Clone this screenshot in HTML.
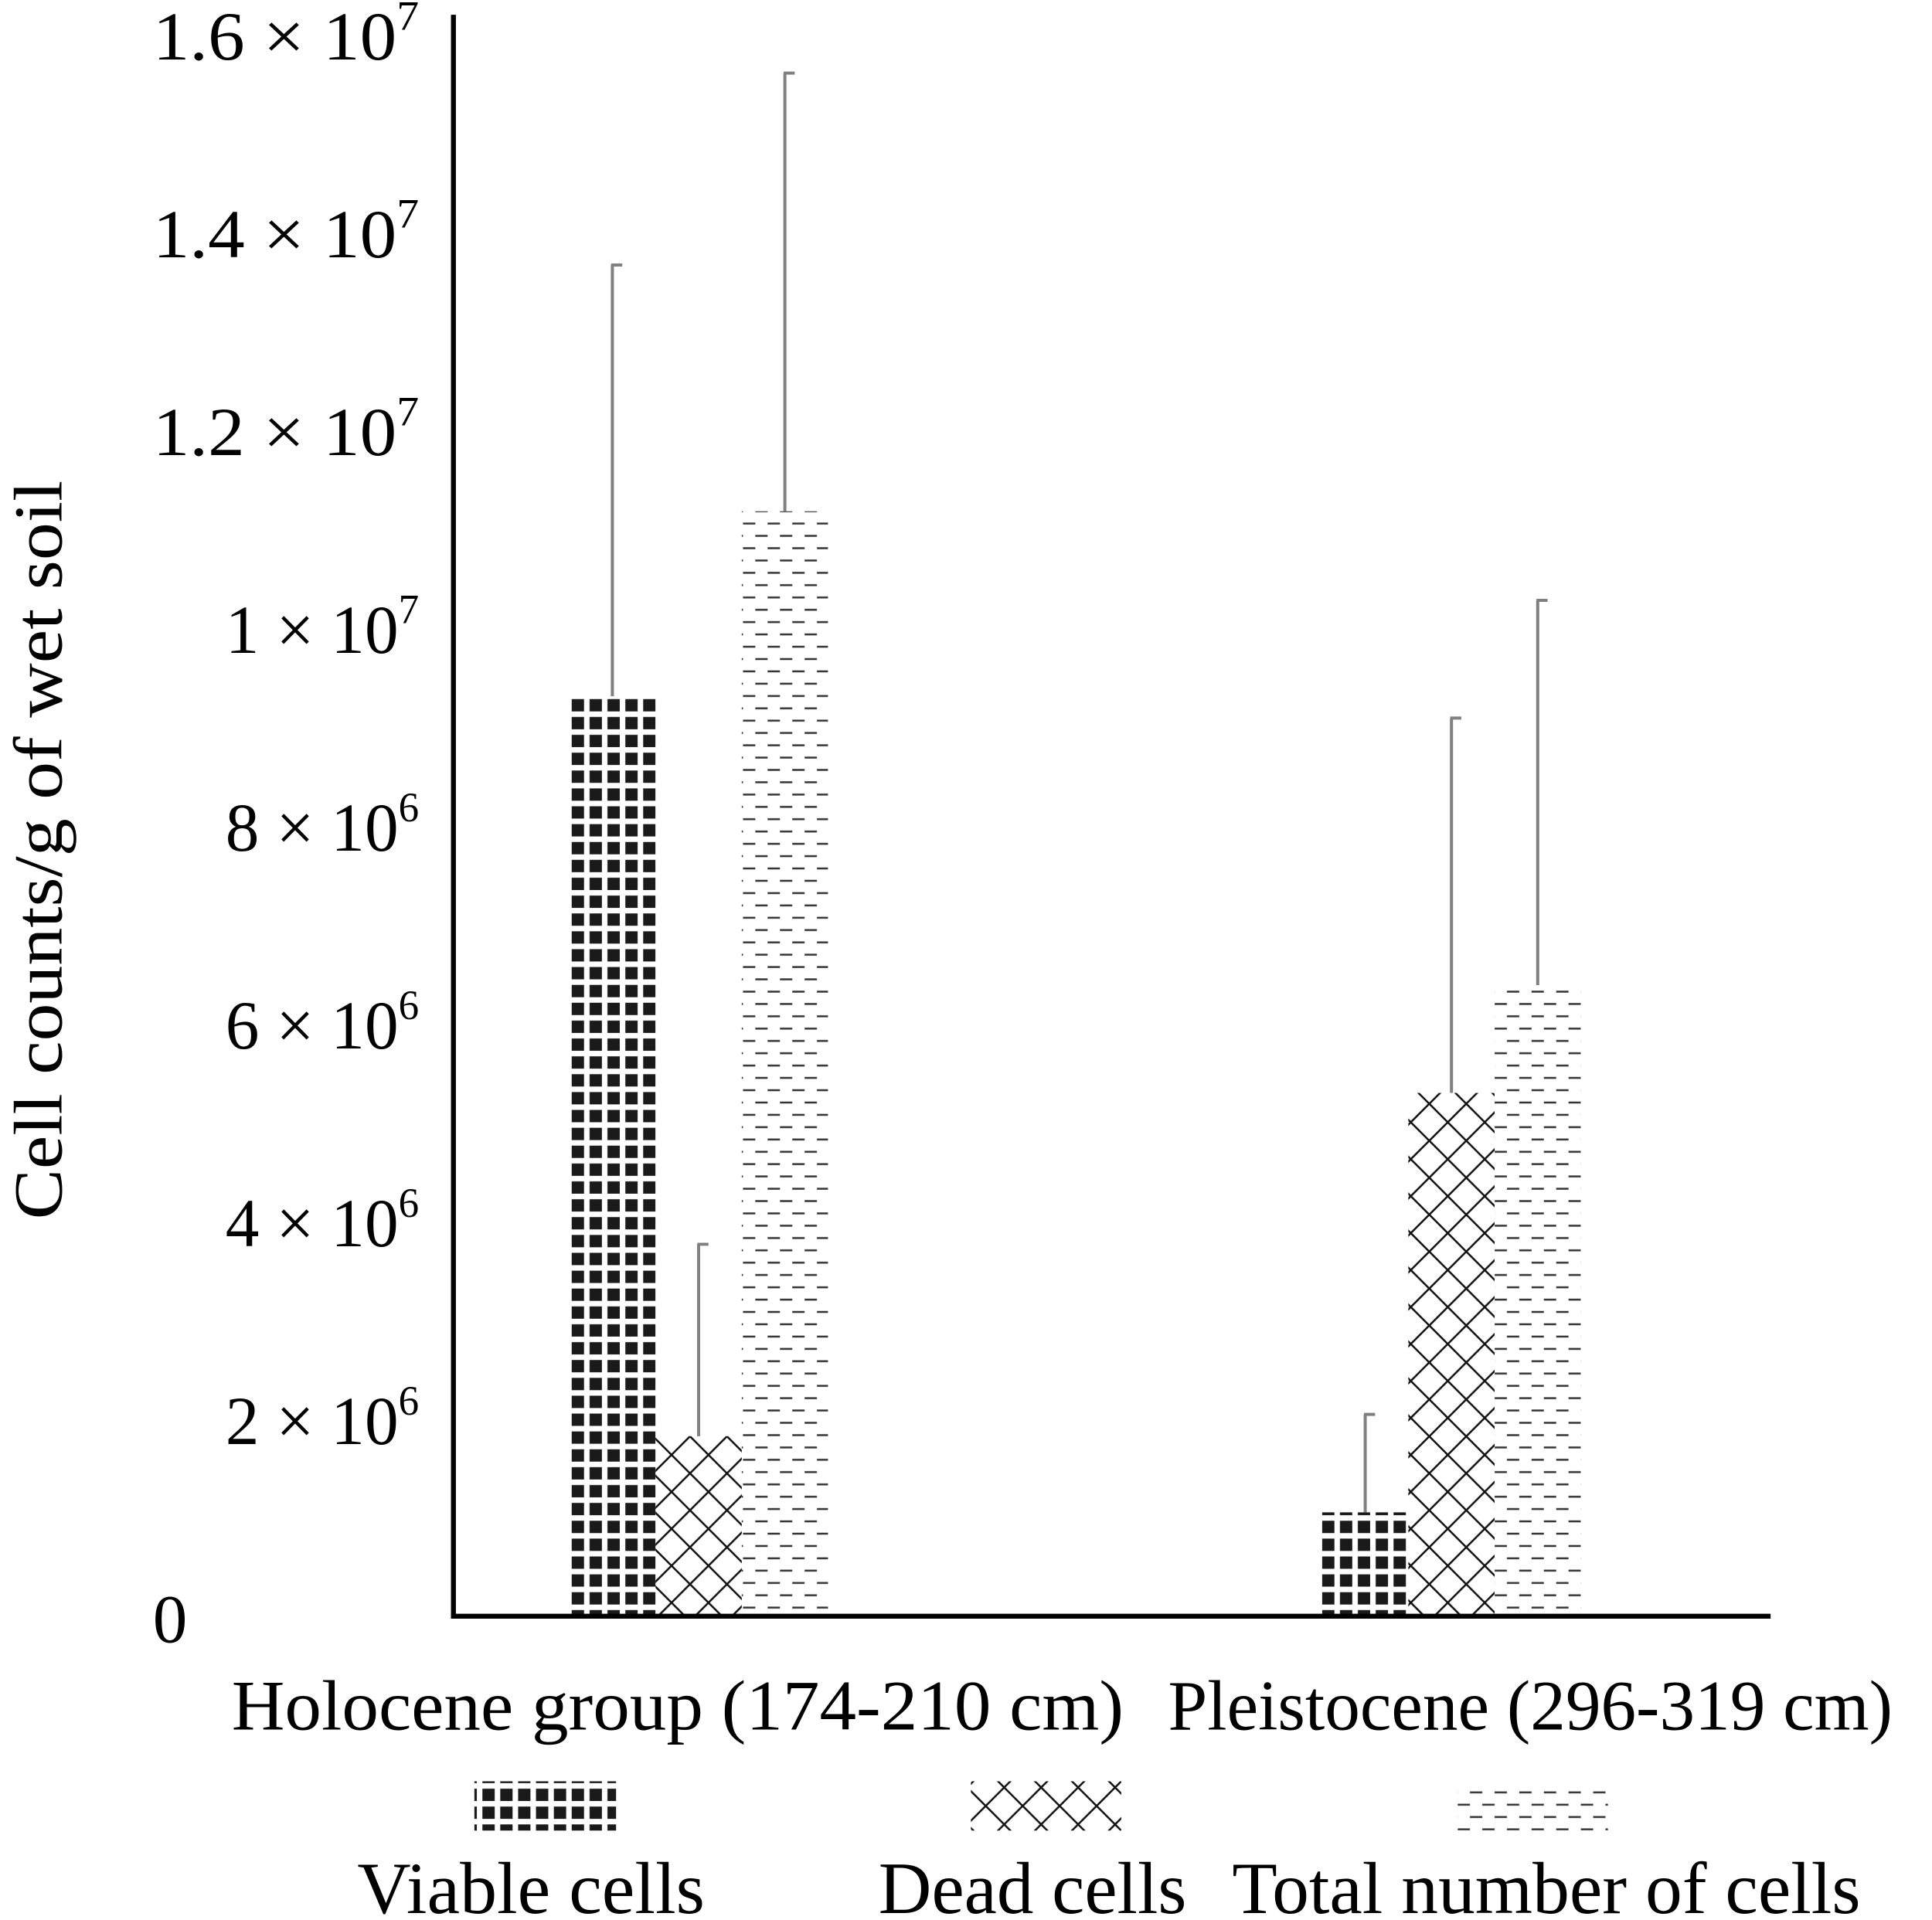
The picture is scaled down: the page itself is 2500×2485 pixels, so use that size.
<!DOCTYPE html>
<html><head><meta charset="utf-8"><style>
html,body{margin:0;padding:0;background:#fff;}
svg{display:block;}
text{font-family:"Liberation Serif",serif;fill:#000;}
</style></head><body>
<svg id="chart" width="2500" height="2485" viewBox="0 0 1568 1558.6" preserveAspectRatio="none" xmlns="http://www.w3.org/2000/svg">
<defs>
<pattern id="pViable" patternUnits="userSpaceOnUse" width="14.5" height="14.5" x="462" y="0">
<rect x="2" y="2" width="10" height="10" fill="#1a1a1a"/></pattern>
<pattern id="pDead" patternUnits="userSpaceOnUse" width="30" height="30" x="530" y="1166">
<path d="M0,0 L30,30 M30,0 L0,30" stroke="#111" stroke-width="1.6" fill="none"/></pattern>
<pattern id="pTotal" patternUnits="userSpaceOnUse" width="20" height="20" x="600" y="0">
<path d="M3,5 H13 M-7,15 H3 M13,15 H23" stroke="#333" stroke-width="1.5"/></pattern>
</defs>
<g id="plot"></g>
</svg>
<script>
const categories = ["Holocene group (174-210 cm)", "Pleistocene (296-319 cm)"];
const seriesNames = ["Viable cells", "Dead cells", "Total number of cells"];
const viable = [9.3e6, 1.05e6];
const dead = [1.82e6, 5.29e6];
const total = [11.17e6, 6.38e6];
const viableErr = [4.36e6, 0.99e6];
const deadErr = [1.94e6, 3.79e6];
const totalErr = [4.43e6, 3.89e6];
const tickValues = [0, 2e6, 4e6, 6e6, 8e6, 1e7, 1.2e7, 1.4e7, 1.6e7];
const tickMant = ["0", "2", "4", "6", "8", "1", "1.2", "1.4", "1.6"];
const tickExp = ["", "6", "6", "6", "6", "7", "7", "7", "7"];

const NS = "http://www.w3.org/2000/svg";
const g = document.getElementById("plot");
const X0 = 368, X1 = 1437, Y0 = 1312, PX_PER = 160.6 / 2e6;
function yScale(v){ return Y0 - v * PX_PER; }
const groupStart = [462, 1073];
const barW = 70;
function xScale(ci, si){ return groupStart[ci] + si * barW; }
function mk(tag, attrs){ const e = document.createElementNS(NS, tag); for (const k in attrs) e.setAttribute(k, attrs[k]); g.appendChild(e); return e; }

const series = [viable, dead, total];
const errs = [viableErr, deadErr, totalErr];
const fills = ["url(#pViable)", "url(#pDead)", "url(#pTotal)"];
const keys = ["viable", "dead", "total"];

for (let ci = 0; ci < categories.length; ci++) {
  for (let si = 0; si < 3; si++) {
    const cx = xScale(ci, si) + barW / 2;
    const yt = yScale(series[si][ci] + errs[si][ci]);
    const yb = yScale(series[si][ci]);
    const l = mk("path", {d: `M${cx},${yb} V${yt} M${cx-1},${yt} H${cx+8}`, stroke: "#808080", "stroke-width": 2.5, fill: "none"});
    
    
  }
}
for (let ci = 0; ci < categories.length; ci++) {
  for (let si = 0; si < 3; si++) {
    const x = xScale(ci, si), yt = yScale(series[si][ci]);
    const r = mk("rect", {x: x, y: yt, width: barW, height: Y0 - yt, fill: fills[si]});
    
    
  }
}
const ya = mk("line", {x1: X0, y1: 12, x2: X0, y2: Y0 + 2, stroke: "#000", "stroke-width": 4});


const xa = mk("line", {x1: X0 - 2, y1: Y0, x2: X1, y2: Y0, stroke: "#000", "stroke-width": 4});



for (let i = 0; i < tickValues.length; i++) {
  const y = yScale(tickValues[i]) + 21;
  const t = mk("text", {y: y, "font-size": 56});
  
  
  if (tickExp[i] === "") {
    t.setAttribute("x", 124);
    t.textContent = tickMant[i];
  } else {
    const isLong = tickMant[i].length > 1;
    t.setAttribute("x", isLong ? 124 : 183);
    t.setAttribute("textLength", isLong ? 216 : 157);
    t.setAttribute("lengthAdjust", "spacingAndGlyphs");
    const a = document.createElementNS(NS, "tspan"); a.textContent = tickMant[i] + " \u00d7 10"; t.appendChild(a);
    const b = document.createElementNS(NS, "tspan"); b.setAttribute("font-size", 34); b.setAttribute("dy", -24); b.textContent = tickExp[i]; t.appendChild(b);
  }
}
const yt = mk("text", {x: 0, y: 0, "font-size": 56, "text-anchor": "middle", textLength: 600, lengthAdjust: "spacingAndGlyphs", transform: "translate(50,690) rotate(-90)"});
yt.textContent = "Cell counts/g of wet soil";



const catX = [188, 948];
const catW = [724, 588];
for (let ci = 0; ci < categories.length; ci++) {
  const t = mk("text", {x: catX[ci], y: 1404, "font-size": 58, textLength: catW[ci], lengthAdjust: "spacingAndGlyphs"});
  t.textContent = categories[ci];
  
  
}
const legX = [[385, 115], [788, 122], [1183, 122]];
const legTX = [[290, 282], [713, 250], [1000, 510]];
for (let si = 0; si < 3; si++) {
  const r = mk("rect", {x: legX[si][0], y: 1446, width: legX[si][1], height: 40, fill: fills[si]});
  
  
  const t = mk("text", {x: legTX[si][0], y: 1553, "font-size": 60, textLength: legTX[si][1], lengthAdjust: "spacingAndGlyphs"});
  t.textContent = seriesNames[si];
  
  
}
</script>
</body></html>
